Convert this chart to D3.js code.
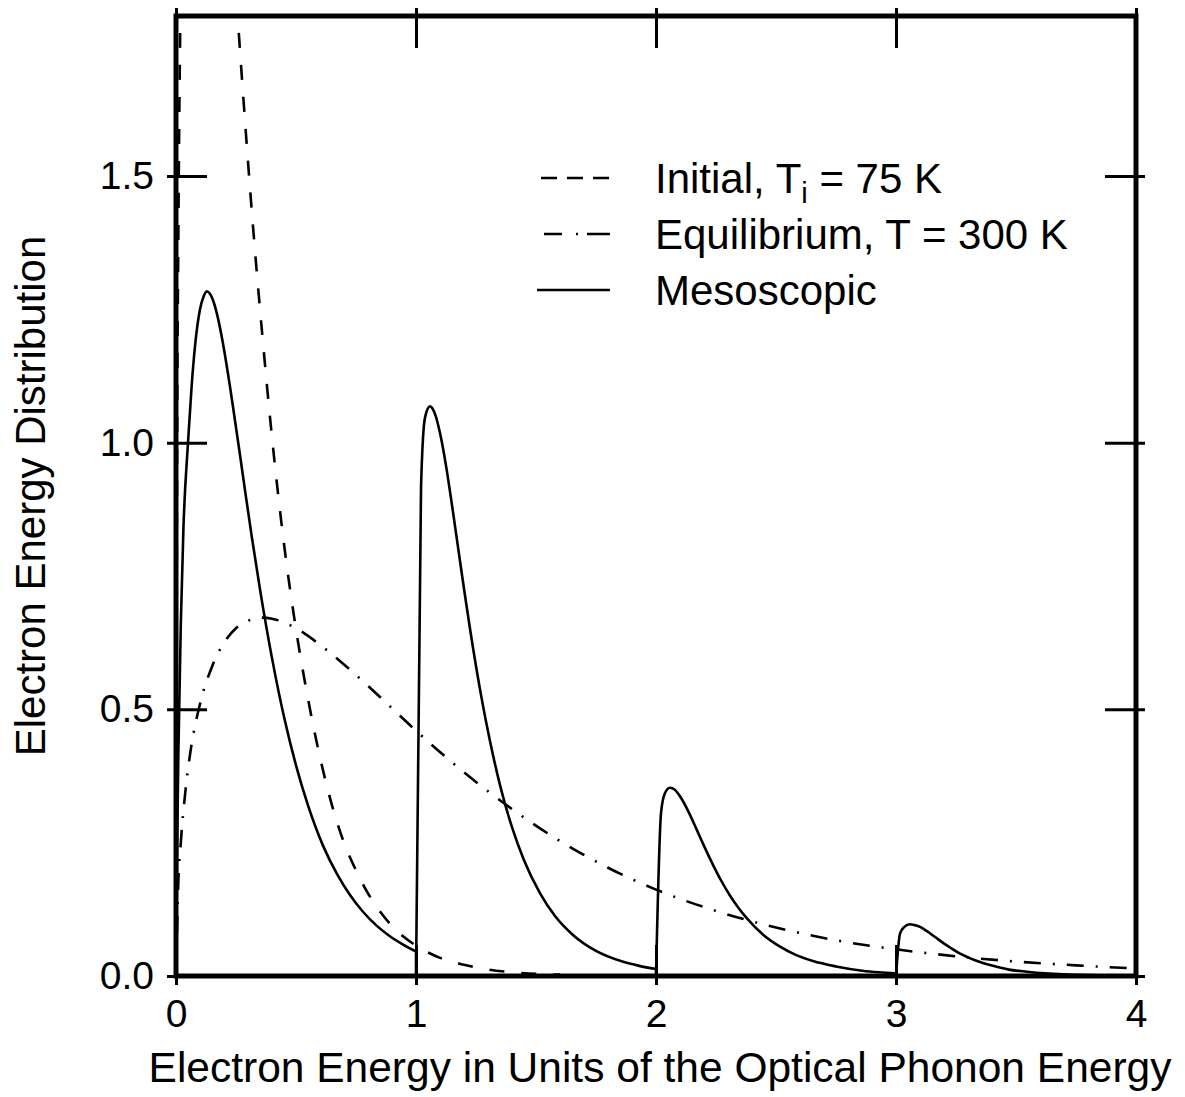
<!DOCTYPE html>
<html>
<head>
<meta charset="utf-8">
<script src="https://cdnjs.cloudflare.com/ajax/libs/d3/7.8.5/d3.min.js"></script>
<style>
  body { margin: 0; background: #fff; }
  text { font-family: "Liberation Sans", Arial, Helvetica, sans-serif; fill: #000; }
</style>
</head>
<body>
<div id="chart"></div>
<script>
// energies in units of the optical phonon energy
var xTicks = [0, 1, 2, 3, 4];
var yTicks = [0, 0.5, 1.0, 1.5];

var initialE = [0, 0.004, 0.01, 0.02, 0.04, 0.08, 0.12, 0.16, 0.2, 0.24, 0.28, 0.32, 0.36, 0.4, 0.45, 0.5,
  0.55, 0.6, 0.65, 0.7, 0.75, 0.8, 0.85, 0.9, 0.95, 1.0, 1.1, 1.2, 1.3, 1.4, 1.5, 1.6];
var initialF = [0, 0.91, 1.40, 1.87, 2.37, 2.68, 2.63, 2.43, 2.17, 1.91, 1.65, 1.41, 1.20, 1.01, 0.81, 0.65,
  0.52, 0.41, 0.32, 0.25, 0.198, 0.155, 0.121, 0.094, 0.073, 0.057, 0.034, 0.021, 0.012, 0.007, 0.004, 0.0025];

var equilE = [0, 0.01, 0.02, 0.04, 0.06, 0.1, 0.15, 0.2, 0.25, 0.3, 0.36, 0.4, 0.5, 0.6, 0.7, 0.8, 0.9, 1.0,
  1.2, 1.4, 1.6, 1.8, 2.0, 2.25, 2.5, 2.75, 3.0, 3.25, 3.5, 3.75, 4.0];
var equilF = [0, 0.18, 0.25, 0.35, 0.42, 0.51, 0.58, 0.625, 0.652, 0.666, 0.672, 0.67, 0.652, 0.621, 0.584, 0.544, 0.502, 0.46,
  0.382, 0.313, 0.253, 0.203, 0.162, 0.122, 0.091, 0.067, 0.05, 0.037, 0.027, 0.02, 0.014];

// mesoscopic: one branch per phonon replica, each starting at 0 at an integer energy
var mesoE = [0, 0.005, 0.01, 0.02, 0.031, 0.05, 0.065, 0.079, 0.1, 0.115, 0.128, 0.14, 0.155, 0.175, 0.19, 0.21,
  0.225, 0.245, 0.267, 0.29, 0.316, 0.35, 0.4, 0.45, 0.5, 0.55, 0.613, 0.67, 0.725, 0.78, 0.837, 0.89, 0.946, 1.0,
  1.0, 1.021, 1.0375, 1.058, 1.079, 1.1, 1.125, 1.15, 1.19, 1.238, 1.27, 1.308, 1.35, 1.4, 1.45, 1.517, 1.58,
  1.654, 1.75, 1.86, 1.93, 2.0,
  2.0, 2.021, 2.0375, 2.058, 2.079, 2.1, 2.13, 2.171, 2.2, 2.238, 2.27, 2.308, 2.34, 2.379, 2.45, 2.517, 2.58,
  2.654, 2.75, 2.86, 2.93, 3.0,
  3.0, 3.017, 3.035, 3.058, 3.08, 3.1, 3.129, 3.16, 3.196, 3.23, 3.267, 3.3, 3.338, 3.404, 3.47, 3.546, 3.62,
  3.7, 3.8, 3.9, 4.0];
var mesoF = [0, 0.25, 0.42, 0.66, 0.84, 1.0, 1.105, 1.18, 1.25, 1.274, 1.284, 1.28, 1.266, 1.233, 1.2, 1.148,
  1.105, 1.044, 0.976, 0.903, 0.823, 0.725, 0.596, 0.486, 0.395, 0.32, 0.244, 0.192, 0.152, 0.12, 0.094, 0.075, 0.059, 0.046,
  0, 0.917, 1.047, 1.068, 1.054, 1.018, 0.957, 0.883, 0.757, 0.614, 0.529, 0.441, 0.358, 0.279, 0.217, 0.155, 0.112,
  0.077, 0.047, 0.027, 0.019, 0.013,
  0, 0.306, 0.343, 0.353, 0.349, 0.337, 0.313, 0.273, 0.244, 0.208, 0.18, 0.151, 0.13, 0.108, 0.076, 0.055, 0.04,
  0.028, 0.018, 0.01, 0.007, 0.005,
  0, 0.08, 0.092, 0.097, 0.095, 0.092, 0.084, 0.074, 0.062, 0.052, 0.042, 0.035, 0.028, 0.019, 0.012, 0.008, 0.005,
  0.003, 0.0016, 0.0009, 0.0005];

var legendLabels = ["Initial, T", "Equilibrium, T = 300 K", "Mesoscopic"];

var svgWidth = 1185;
var svgHeight = 1097;
var margin = { top: 16, right: 49, bottom: 121, left: 176 };
var width = svgWidth - margin.left - margin.right;
var height = svgHeight - margin.top - margin.bottom;

var svg = d3.select("#chart")
  .append("svg")
  .attr("width", svgWidth)
  .attr("height", svgHeight);

var chartGroup = svg.append("g")
  .attr("transform", `translate(${margin.left}, ${margin.top})`);

var xScale = d3.scaleLinear().domain([0, 4]).range([0, width]);
var yScale = d3.scaleLinear().domain([0, 1.8]).range([height, 0]);

chartGroup.append("clipPath")
  .attr("id", "plotClip")
  .append("rect")
  .attr("width", width)
  .attr("height", height);

var line = d3.line()
  .x(d => xScale(d[0]))
  .y(d => yScale(d[1]))
  .curve(d3.curveMonotoneX);

// split at repeated energies (the jumps) and join the branches into one path
function branchPath(es, fs) {
  var pts = d3.zip(es, fs);
  var parts = [[pts[0]]];
  for (var i = 1; i < pts.length; i++) {
    if (pts[i][0] === pts[i - 1][0]) parts.push([]);
    parts[parts.length - 1].push(pts[i]);
  }
  return parts.map((p, i) => {
    var d = line(p);
    return i === 0 ? d : "L" + d.slice(1);
  }).join("");
}

var series = [
  { e: initialE, f: initialF, dash: "15,17" },
  { e: equilE, f: equilF, dash: "17,12,2,12" },
  { e: mesoE, f: mesoF, dash: null }
];

chartGroup.append("g")
  .attr("clip-path", "url(#plotClip)")
  .selectAll("path")
  .data(series)
  .enter()
  .append("path")
  .attr("d", s => branchPath(s.e, s.f))
  .attr("fill", "none")
  .attr("stroke", "#000")
  .attr("stroke-width", 2.6)
  .attr("stroke-linejoin", "miter")
  .attr("stroke-dasharray", s => s.dash);

// axes: 9px ticks outside, 31px inside
var fmt = d3.format(".1f");
var bottomG = chartGroup.append("g")
  .attr("transform", `translate(0, ${height})`)
  .call(d3.axisBottom(xScale).tickValues(xTicks).tickFormat(d3.format("d")).tickSizeInner(9).tickSizeOuter(0).tickPadding(14));
bottomG.selectAll(".tick line").attr("y1", -31);

var topG = chartGroup.append("g")
  .call(d3.axisTop(xScale).tickValues(xTicks).tickFormat("").tickSizeInner(8).tickSizeOuter(0));
topG.selectAll(".tick line").attr("y1", 32);

var leftG = chartGroup.append("g")
  .call(d3.axisLeft(yScale).tickValues(yTicks).tickFormat(fmt).tickSizeInner(9).tickSizeOuter(0).tickPadding(13));
leftG.selectAll(".tick line").attr("x1", 31);

var rightG = chartGroup.append("g")
  .attr("transform", `translate(${width}, 0)`)
  .call(d3.axisRight(yScale).tickValues(yTicks).tickFormat("").tickSizeInner(9).tickSizeOuter(0));
rightG.selectAll(".tick line").attr("x1", -31);

chartGroup.selectAll(".domain").remove();
chartGroup.selectAll(".tick line").attr("stroke", "#000").attr("stroke-width", 3);
chartGroup.selectAll(".tick text")
  .attr("fill", "#000")
  .style("font-family", "'Liberation Sans', Arial, Helvetica, sans-serif")
  .style("font-size", "39px");

chartGroup.append("rect")
  .attr("width", width)
  .attr("height", height)
  .attr("fill", "none")
  .attr("stroke", "#000")
  .attr("stroke-width", 5);

// axis titles
chartGroup.append("text")
  .attr("x", width / 2 + 4)
  .attr("y", height + 106)
  .attr("text-anchor", "middle")
  .style("font-size", "42.5px")
  .text("Electron Energy in Units of the Optical Phonon Energy");

chartGroup.append("text")
  .attr("transform", `translate(${45 - margin.left}, ${height / 2}) rotate(-90)`)
  .attr("text-anchor", "middle")
  .style("font-size", "42px")
  .text("Electron Energy Distribution");

// legend
var legendY = [178, 234, 290];
var legendG = svg.append("g");

legendG.append("line")
  .attr("x1", 541).attr("x2", 610)
  .attr("y1", legendY[0]).attr("y2", legendY[0])
  .attr("stroke", "#000").attr("stroke-width", 2.6)
  .attr("stroke-dasharray", "16,10");
legendG.append("line")
  .attr("x1", 544).attr("x2", 610)
  .attr("y1", legendY[1]).attr("y2", legendY[1])
  .attr("stroke", "#000").attr("stroke-width", 2.6)
  .attr("stroke-dasharray", "18,14,2,9,23");
legendG.append("line")
  .attr("x1", 537).attr("x2", 610)
  .attr("y1", legendY[2]).attr("y2", legendY[2])
  .attr("stroke", "#000").attr("stroke-width", 2.6);

var t0 = legendG.append("text")
  .attr("x", 655)
  .attr("y", legendY[0] + 15)
  .style("font-size", "42px");
t0.append("tspan").text(legendLabels[0]);
t0.append("tspan").attr("dy", 10).style("font-size", "29px").text("i");
t0.append("tspan").attr("dy", -10).text(" = 75 K");

legendG.selectAll(".lbl")
  .data(legendLabels.slice(1))
  .enter()
  .append("text")
  .attr("class", "lbl")
  .attr("x", 655)
  .attr("y", (d, i) => legendY[i + 1] + 15)
  .style("font-size", "42px")
  .text(d => d);
</script>
</body>
</html>
